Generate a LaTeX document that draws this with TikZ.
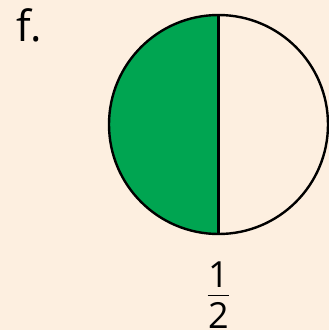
\documentclass[tikz,border=0pt]{standalone}
\usepackage{fontspec}
\setmainfont{Open Sans}
\definecolor{bgcream}{HTML}{FDEFE0}
\definecolor{halfgreen}{HTML}{00A551}
\begin{document}
\begin{tikzpicture}[x=1pt,y=-1pt,
  outline/.style={draw=black, line width=2.4pt},
  digit/.style={inner sep=0pt, font=\fontsize{36}{36}\selectfont}]
\def\r{109.5}
\fill[bgcream] (0,0) rectangle (329,330);
\useasboundingbox (0,0) rectangle (329,330);

\node[anchor=base west, inner sep=0pt, font=\fontsize{43}{43}\selectfont] (tag) at (16,41) {f.};

% circle, left half shaded
\coordinate (c) at (218.5,124.5);
\fill[halfgreen] (c) ++(0,-\r) arc[start angle=270, end angle=90, radius=\r] -- cycle;
\draw[outline] (c) circle[radius=\r];
\draw[outline] (c) ++(0,-\r) -- ++(0,2*\r);

% fraction
\node[digit, anchor=base] (num) at (218.5,287) {1};
\node[digit, anchor=base] (den) at (218.5,328.5) {2};
\draw[line width=1.5pt] (207.5,295.5) -- (229,295.5);
\end{tikzpicture}
\end{document}
